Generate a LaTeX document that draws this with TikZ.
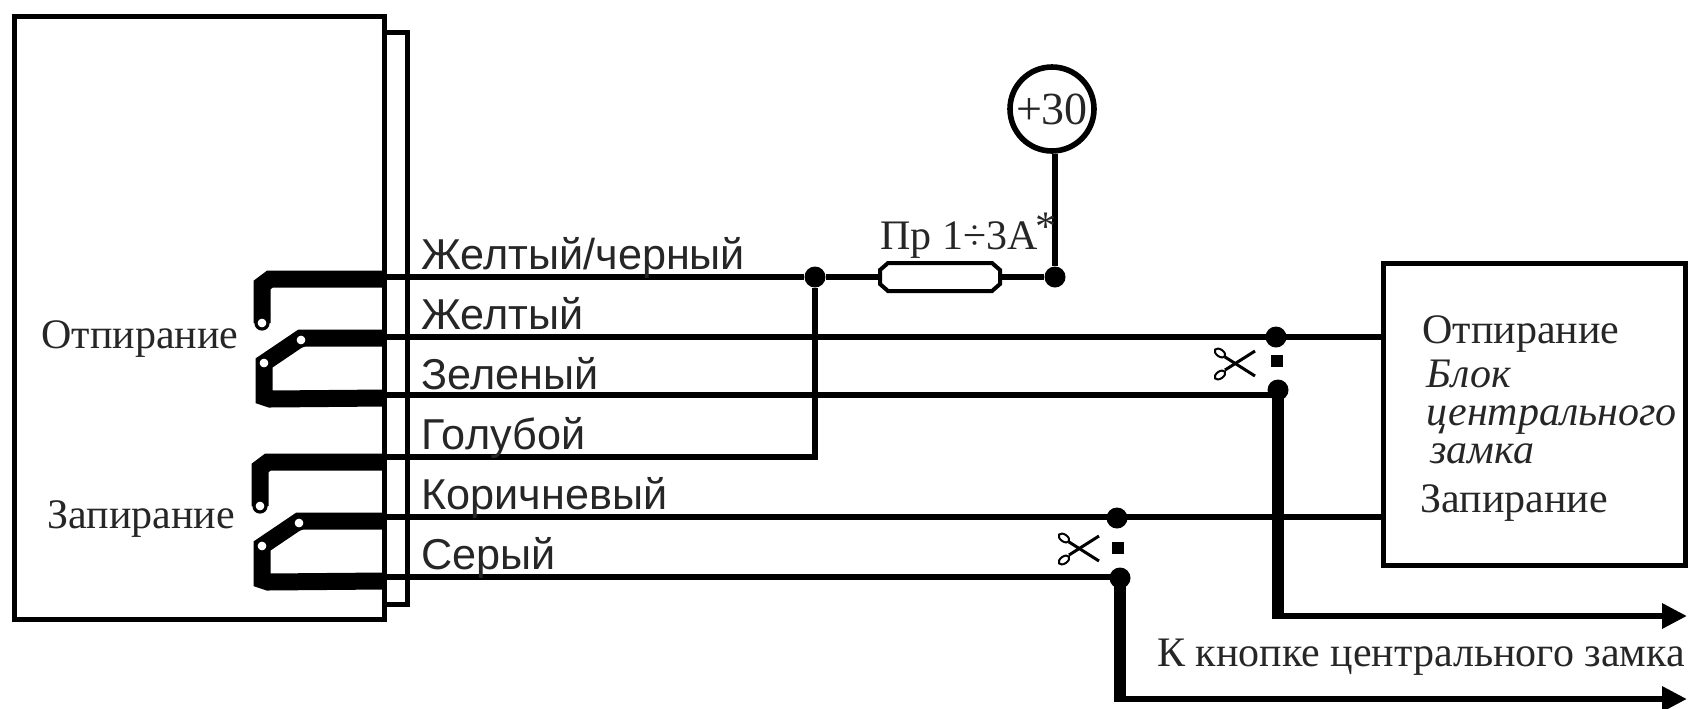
\documentclass[tikz,border=0pt]{standalone}
\usepackage{fontspec}
\setmainfont{Liberation Serif}
\newfontfamily\wirefont{Liberation Sans}
\usetikzlibrary{positioning,arrows.meta}

\begin{document}
\begin{tikzpicture}[
    x=0.5pt, y=-0.5pt,
    boxstyle/.style={rectangle, draw, line width=2.5pt, inner sep=0pt},
    wire/.style={line width=2.6pt},
    contact/.style={line width=8.5pt, miter limit=10},
    feed/.style={line width=6pt},
    feedout/.style={line width=3.2pt, -{Triangle[length=12.5pt,width=12pt]}},
    junction/.style={circle, fill=black, inner sep=0pt, minimum size=10.5pt},
    gapdot/.style={rectangle, fill=black, inner sep=0pt, minimum size=6pt},
    hole/.style={circle, fill=white, draw=black, line width=1.6pt, inner sep=0pt, minimum size=6pt},
    wirelabel/.style={anchor=base west, inner sep=0pt, font=\wirefont\fontsize{21.6}{24}\selectfont, text=black!85},
    textlabel/.style={anchor=base west, inner sep=0pt, font=\fontsize{21}{24}\selectfont, text=black!85},
    italiclabel/.style={textlabel, font=\itshape\fontsize{21}{24}\selectfont},
    scissors/.pic={
        \draw[line width=1.5pt] (-8,7) -- (22,-12);
        \draw[line width=1.5pt] (-8,-6) -- (22,13);
        \draw[line width=1pt, fill=white, rotate around={-35:(-13,-10)}] (-13,-10) ellipse (6 and 3.5);
        \draw[line width=1pt, fill=white, rotate around={35:(-13,12)}] (-13,12) ellipse (6 and 3.5);
    }
]
\useasboundingbox (0,0) rectangle (1693,708);

% Alarm unit and its connector strip
\node[boxstyle, minimum width=12pt, minimum height=286pt] (strip) at (395,318) {};
\node[boxstyle, fill=white, minimum width=185pt, minimum height=301.5pt] (unit) at (199.5,317.5) {};

% Wire ends on the strip
\foreach \i/\y in {1/277,2/337,3/395,4/457,5/517,6/577} {
    \coordinate (w\i) at (383,\y);
}

% Relay contacts
\foreach \g/\dx/\dy in {1/0/0,2/-2/183} {
    \begin{scope}[shift={(\dx,\dy)}]
        \draw[contact] (385,279) -- (270,279) -- (262,285) -- (262,323);
        \draw[contact] (385,338) -- (301,338) -- (264,363) -- (264,397) -- (270,399) -- (385,398);
        \node[hole] (ha\g) at (262,323) {};
        \node[hole] (hb\g) at (301,340) {};
        \node[hole] (hc\g) at (264,363) {};
    \end{scope}
}

% Junctions
\node[junction] (j1) at (815,277) {};
\node[junction] (j2) at (1055,277) {};
\node[junction] (j3) at (1276,337) {};
\node[junction] (j4) at (1278,390) {};
\node[junction] (j5) at (1117,518) {};
\node[junction] (j6) at (1120,578) {};
\node[gapdot] (g1) at (1277,361) {};
\node[gapdot] (g2) at (1118,548) {};

% Fuse, +30 and the central lock block
\node[minimum width=60pt, minimum height=15pt, inner sep=0pt] (fuse) at (940,277) {};
\draw[line width=2pt, shift={(fuse.center)}] (-60,-7) -- (-52,-14) -- (52,-14) -- (60,-7) -- (60,7) -- (52,14) -- (-52,14) -- (-60,7) -- cycle;
\node[circle, draw, line width=2.8pt, minimum size=42pt, inner sep=0pt, font=\fontsize{23}{24}\selectfont, text=black!85] (plus) at (1052,109) {+30};
\node[boxstyle, minimum width=151pt, minimum height=151pt] (lock) at (1534,414) {};
\coordinate (c1) at (1278,616);
\coordinate (c2) at (1120,699);
\coordinate (a1) at (1687,616);
\coordinate (a2) at (1687,699);

% Wires
\draw[wire] (w1) -- (j1) -- (fuse) (fuse) -- (j2) -- (j2 |- plus.south);
\draw[wire] (w2) -- (lock.west |- w2);
\draw[wire] (w3) -- (j4.center |- w3);
\draw[wire] (w4) -| (j1);
\draw[wire] (w5) -- (lock.west |- w5);
\draw[wire] (w6) -- (j6.center |- w6);
\draw[feed, shorten >=-1.6pt] (j4.center) -- (c1);
\draw[feed, shorten >=-1.6pt] (j6.center) -- (c2);
\draw[feedout] (c1) -- (a1);
\draw[feedout] (c2) -- (a2);

% Cut marks
\pic at (1233,363) {scissors};
\pic at (1077,548) {scissors};

% Labels
\node[wirelabel] (l1) at (421,269) {Желтый/черный};
\node[wirelabel] (l2) at (421,329) {Желтый};
\node[wirelabel] (l3) at (421,389) {Зеленый};
\node[wirelabel] (l4) at (421,449) {Голубой};
\node[wirelabel] (l5) at (421,509) {Коричневый};
\node[wirelabel] (l6) at (421,569) {Серый};
\node[textlabel] (open) at (41,348) {Отпирание};
\node[textlabel] (shut) at (47,528) {Запирание};
\node[textlabel] (fuselabel) at (880,249) {Пр 1÷3А\kern-1pt\raisebox{0.2em}{\fontsize{21}{21}\selectfont *}};
\node[textlabel] (lockopen) at (1422,343) {Отпирание};
\node[italiclabel] (blk1) at (1426,387) {Блок};
\node[italiclabel] (blk2) at (1426,425) {центрального};
\node[italiclabel] (blk3) at (1430,463) {замка};
\node[textlabel] (lockshut) at (1420,512) {Запирание};
\node[textlabel] (btn) at (1157,666) {К кнопке центрального замка};

\end{tikzpicture}
\end{document}
